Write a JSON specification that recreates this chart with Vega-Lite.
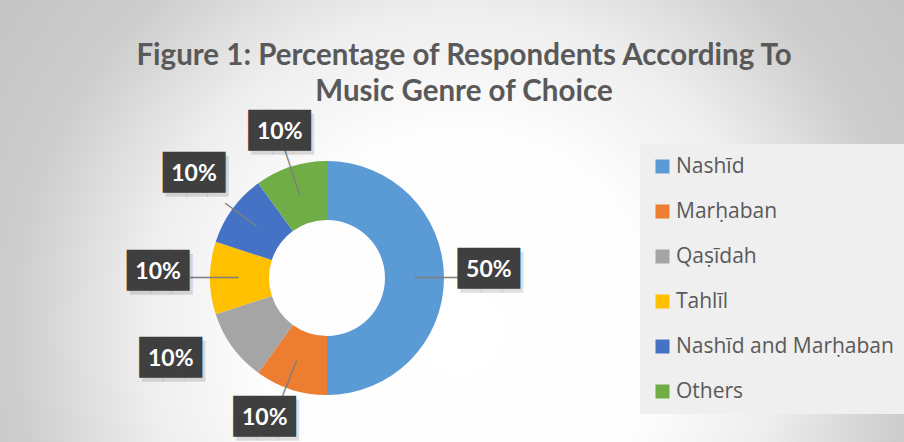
{
  "$schema": "https://vega.github.io/schema/vega-lite/v6.json",
  "width": 1180,
  "height": 1180,
  "autosize": {"type": "none"},
  "padding": {"left": -263, "top": -312, "right": -13, "bottom": -426},
  "background": "#ffffff",
  "view": {
    "fill": {"gradient": "radial", "x1": 0.613, "y1": 0.544, "r1": 0, "x2": 0.613, "y2": 0.544, "r2": 0.5,
      "stops": [
        {"offset": 0, "color": "#ffffff"},
        {"offset": 0.34, "color": "#fdfdfd"},
        {"offset": 0.54, "color": "#eeeeee"},
        {"offset": 0.76, "color": "#cdcdcd"},
        {"offset": 0.92, "color": "#c6c6c6"},
        {"offset": 1, "color": "#c4c4c4"}
      ]},
    "stroke": null
  },
  "title": {
    "text": ["Figure 1: Percentage of Respondents According To", "Music Genre of Choice"],
    "font": "Lato",
    "fontSize": 29.5,
    "fontWeight": "bold",
    "color": "#595959",
    "anchor": "middle",
    "frame": "group",
    "orient": "top",
    "offset": 0,
    "baseline": "alphabetic",
    "dx": 137,
    "dy": 442,
    "lineHeight": 36
  },
  "data": {
    "values": [
      {"cat": "Nashīd", "pct": 0.5, "idx": 1},
      {"cat": "Marḥaban", "pct": 0.1, "idx": 2},
      {"cat": "Qaṣīdah", "pct": 0.1, "idx": 3},
      {"cat": "Tahlīl", "pct": 0.1, "idx": 4},
      {"cat": "Nashīd and Marḥaban", "pct": 0.1, "idx": 5},
      {"cat": "Others", "pct": 0.1, "idx": 6}
    ]
  },
  "layer": [
    {
      "mark": {"type": "arc", "innerRadius": 58, "outerRadius": 117},
      "encoding": {
        "theta": {"field": "pct", "type": "quantitative", "stack": true},
        "order": {"field": "idx", "type": "quantitative"},
        "color": {
          "field": "cat",
          "type": "nominal",
          "scale": {
            "domain": ["Nashīd", "Marḥaban", "Qaṣīdah", "Tahlīl", "Nashīd and Marḥaban", "Others"],
            "range": ["#5B9BD5", "#ED7D31", "#A5A5A5", "#FFC000", "#4472C4", "#70AD47"]
          },
          "legend": {
            "title": null,
            "orient": "none",
            "legendX": 903,
            "legendY": 456,
            "symbolType": "square",
            "symbolSize": 196,
            "symbolStrokeWidth": 0,
            "labelFont": "Open Sans",
            "labelFontSize": 21,
            "labelColor": "#595959",
            "labelOffset": 3,
            "rowPadding": 23,
            "padding": 12,
            "fillColor": "#efefef",
            "labelLimit": 400
          }
        }
      }
    },
    {
      "mark": {"type": "text", "radius": 112, "angle": 0, "text": "─────", "font": "DejaVu Sans Mono", "fontSize": 16, "fill": "#7f7f7f", "baseline": "middle", "align": "center"},
      "encoding": {
        "theta": {"field": "pct", "type": "quantitative", "stack": true},
        "order": {"field": "idx", "type": "quantitative"},
        "detail": {"field": "cat"},
        "opacity": {"condition": {"test": "datum.cat === 'Nashīd'", "value": 1}, "value": 0}
      }
    },
    {
      "mark": {"type": "text", "radius": 113, "angle": 0, "text": "─────", "font": "DejaVu Sans Mono", "fontSize": 16, "fill": "#7f7f7f", "baseline": "middle", "align": "center"},
      "encoding": {
        "theta": {"field": "pct", "type": "quantitative", "stack": true},
        "order": {"field": "idx", "type": "quantitative"},
        "detail": {"field": "cat"},
        "opacity": {"condition": {"test": "datum.cat === 'Tahlīl'", "value": 1}, "value": 0}
      }
    },
    {
      "mark": {"type": "text", "radius": 107, "angle": 36, "text": "────", "font": "DejaVu Sans Mono", "fontSize": 16, "fill": "#7f7f7f", "baseline": "middle", "align": "center"},
      "encoding": {
        "theta": {"field": "pct", "type": "quantitative", "stack": true},
        "order": {"field": "idx", "type": "quantitative"},
        "detail": {"field": "cat"},
        "opacity": {"condition": {"test": "datum.cat === 'Nashīd and Marḥaban'", "value": 1}, "value": 0}
      }
    },
    {
      "mark": {"type": "text", "radius": 112, "thetaOffset": 0.05, "angle": 111, "text": "─────", "font": "DejaVu Sans Mono", "fontSize": 16, "fill": "#7f7f7f", "baseline": "middle", "align": "center"},
      "encoding": {
        "theta": {"field": "pct", "type": "quantitative", "stack": true},
        "order": {"field": "idx", "type": "quantitative"},
        "detail": {"field": "cat"},
        "opacity": {"condition": {"test": "datum.cat === 'Marḥaban'", "value": 1}, "value": 0}
      }
    },
    {
      "mark": {"type": "text", "radius": 111, "angle": 252, "text": "─────", "font": "DejaVu Sans Mono", "fontSize": 16, "fill": "#7f7f7f", "baseline": "middle", "align": "center"},
      "encoding": {
        "theta": {"field": "pct", "type": "quantitative", "stack": true},
        "order": {"field": "idx", "type": "quantitative"},
        "detail": {"field": "cat"},
        "opacity": {"condition": {"test": "datum.cat === 'Others'", "value": 1}, "value": 0}
      }
    },
    {
      "encoding": {
        "theta": {"field": "pct", "type": "quantitative", "stack": true},
        "order": {"field": "idx", "type": "quantitative"},
        "detail": {"field": "cat"},
        "opacity": {"condition": {"test": "datum.cat === 'Nashīd'", "value": 1}, "value": 0}
      },
      "layer": [
        {"mark": {"type": "text", "radius": 162, "thetaOffset": -0.047, "text": "███", "font": "DejaVu Sans Mono", "fontSize": 34.5, "fill": "#000000", "fillOpacity": 0.15, "baseline": "middle", "align": "center", "dx": 3, "dy": 4}},
        {"mark": {"type": "text", "radius": 162, "thetaOffset": -0.047, "text": "███", "font": "DejaVu Sans Mono", "fontSize": 34.5, "fill": "#3f3f3f", "baseline": "middle", "align": "center"}},
        {"mark": {"type": "text", "radius": 162, "thetaOffset": -0.047, "font": "Lato", "fontWeight": "bold", "fontSize": 23, "fill": "#ffffff", "baseline": "middle", "align": "center"},
         "encoding": {"text": {"field": "pct", "type": "quantitative", "format": ".0%"}}}
      ]
    },
    {
      "encoding": {
        "theta": {"field": "pct", "type": "quantitative", "stack": true},
        "order": {"field": "idx", "type": "quantitative"},
        "detail": {"field": "cat"},
        "opacity": {"condition": {"test": "datum.cat === 'Tahlīl' || datum.cat === 'Nashīd and Marḥaban'", "value": 1}, "value": 0}
      },
      "layer": [
        {"mark": {"type": "text", "radius": 169, "thetaOffset": 0.037, "text": "███", "font": "DejaVu Sans Mono", "fontSize": 34.5, "fill": "#000000", "fillOpacity": 0.15, "baseline": "middle", "align": "center", "dx": 3, "dy": 4}},
        {"mark": {"type": "text", "radius": 169, "thetaOffset": 0.037, "text": "███", "font": "DejaVu Sans Mono", "fontSize": 34.5, "fill": "#3f3f3f", "baseline": "middle", "align": "center"}},
        {"mark": {"type": "text", "radius": 169, "thetaOffset": 0.037, "font": "Lato", "fontWeight": "bold", "fontSize": 23, "fill": "#ffffff", "baseline": "middle", "align": "center"},
         "encoding": {"text": {"field": "pct", "type": "quantitative", "format": ".0%"}}}
      ]
    },
    {
      "encoding": {
        "theta": {"field": "pct", "type": "quantitative", "stack": true},
        "order": {"field": "idx", "type": "quantitative"},
        "detail": {"field": "cat"},
        "opacity": {"condition": {"test": "datum.cat === 'Marḥaban'", "value": 1}, "value": 0}
      },
      "layer": [
        {"mark": {"type": "text", "radius": 153, "thetaOffset": 0.105, "text": "███", "font": "DejaVu Sans Mono", "fontSize": 34.5, "fill": "#000000", "fillOpacity": 0.15, "baseline": "middle", "align": "center", "dx": 3, "dy": 4}},
        {"mark": {"type": "text", "radius": 153, "thetaOffset": 0.105, "text": "███", "font": "DejaVu Sans Mono", "fontSize": 34.5, "fill": "#3f3f3f", "baseline": "middle", "align": "center"}},
        {"mark": {"type": "text", "radius": 153, "thetaOffset": 0.105, "font": "Lato", "fontWeight": "bold", "fontSize": 23, "fill": "#ffffff", "baseline": "middle", "align": "center"},
         "encoding": {"text": {"field": "pct", "type": "quantitative", "format": ".0%"}}}
      ]
    },
    {
      "encoding": {
        "theta": {"field": "pct", "type": "quantitative", "stack": true},
        "order": {"field": "idx", "type": "quantitative"},
        "detail": {"field": "cat"},
        "opacity": {"condition": {"test": "datum.cat === 'Others'", "value": 1}, "value": 0}
      },
      "layer": [
        {"mark": {"type": "text", "radius": 153, "thetaOffset": 0, "text": "███", "font": "DejaVu Sans Mono", "fontSize": 34.5, "fill": "#000000", "fillOpacity": 0.15, "baseline": "middle", "align": "center", "dx": 3, "dy": 4}},
        {"mark": {"type": "text", "radius": 153, "thetaOffset": 0, "text": "███", "font": "DejaVu Sans Mono", "fontSize": 34.5, "fill": "#3f3f3f", "baseline": "middle", "align": "center"}},
        {"mark": {"type": "text", "radius": 153, "thetaOffset": 0, "font": "Lato", "fontWeight": "bold", "fontSize": 23, "fill": "#ffffff", "baseline": "middle", "align": "center"},
         "encoding": {"text": {"field": "pct", "type": "quantitative", "format": ".0%"}}}
      ]
    },
    {
      "encoding": {
        "theta": {"field": "pct", "type": "quantitative", "stack": true},
        "order": {"field": "idx", "type": "quantitative"},
        "detail": {"field": "cat"},
        "opacity": {"condition": {"test": "datum.cat === 'Qaṣīdah'", "value": 1}, "value": 0}
      },
      "layer": [
        {"mark": {"type": "text", "radius": 176, "thetaOffset": 0.15, "text": "███", "font": "DejaVu Sans Mono", "fontSize": 34.5, "fill": "#000000", "fillOpacity": 0.15, "baseline": "middle", "align": "center", "dx": 3, "dy": 4}},
        {"mark": {"type": "text", "radius": 176, "thetaOffset": 0.15, "text": "███", "font": "DejaVu Sans Mono", "fontSize": 34.5, "fill": "#3f3f3f", "baseline": "middle", "align": "center"}},
        {"mark": {"type": "text", "radius": 176, "thetaOffset": 0.15, "font": "Lato", "fontWeight": "bold", "fontSize": 23, "fill": "#ffffff", "baseline": "middle", "align": "center"},
         "encoding": {"text": {"field": "pct", "type": "quantitative", "format": ".0%"}}}
      ]
    }
  ]
}
